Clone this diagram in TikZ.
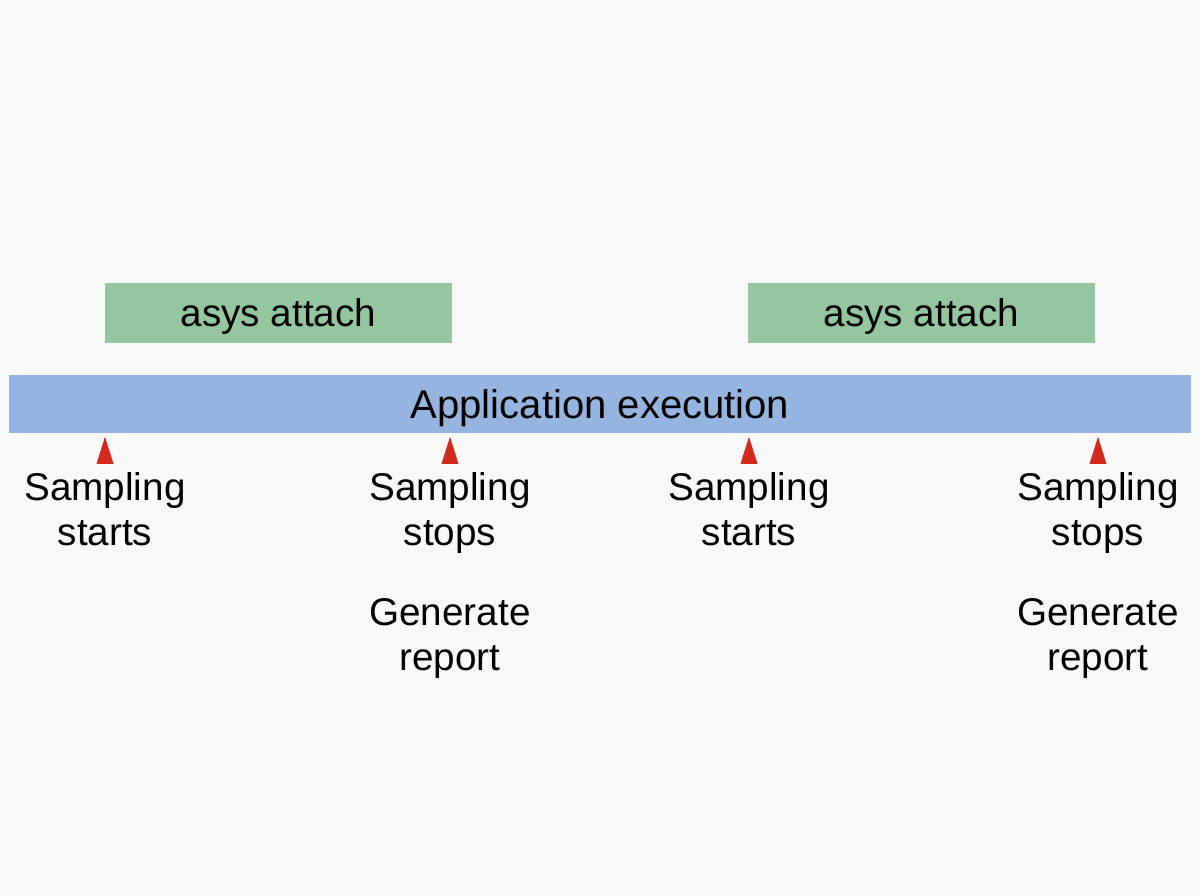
\documentclass[tikz,border=0pt]{standalone}
\usepackage{fontspec}
\setmainfont{Liberation Sans}
\definecolor{mygreen}{RGB}{148,198,160}
\definecolor{myblue}{RGB}{149,181,224}
\definecolor{myred}{RGB}{212,42,30}
\definecolor{mybg}{RGB}{248,248,248}
\usetikzlibrary{positioning,shapes.geometric}

\begin{document}
\begin{tikzpicture}[
    every node/.style={font=\fontsize{11}{12.8}\selectfont},
    attachbox/.style={fill=mygreen,minimum width=3.47cm,minimum height=0.6cm,inner sep=0,text depth=0pt},
    runbar/.style={fill=myblue,minimum width=11.82cm,minimum height=0.58cm,inner sep=0,text depth=0pt,
        font=\fontsize{11.4}{13}\selectfont},
    marker/.style={isosceles triangle,shape border rotate=90,isosceles triangle stretches,
        fill=myred,minimum height=0.27cm,minimum width=0.17cm,inner sep=0,anchor=apex},
    caption/.style={align=center,inner sep=0}
    ]

    \fill[mybg] (0,0) rectangle (12,-8.96);

    \node (a1) [attachbox] at (2.785,-3.13) {asys attach};
    \node (a2) [attachbox] at (9.215,-3.13) {asys attach};
    \node (app) [runbar] at (6.0,-4.04) {Application execution};

    % the markers
    \node (t1) [marker] at (1.05,-4.35) {};
    \node (t2) [marker] at (4.50,-4.35) {};
    \node (t3) [marker] at (7.49,-4.35) {};
    \node (t4) [marker] at (10.98,-4.35) {};

    % the labels
    \node (s1) [caption,below=0.07cm of t1.south] {Sampling\\starts};
    \node (s2) [caption,below=0.07cm of t2.south] {Sampling\\stops};
    \node (s3) [caption,below=0.07cm of t3.south] {Sampling\\starts};
    \node (s4) [caption,below=0.07cm of t4.south] {Sampling\\stops};
    \node (g2) [caption,below=0.44cm of s2] {Generate\\report};
    \node (g4) [caption,below=0.44cm of s4] {Generate\\report};
\end{tikzpicture}
\end{document}
